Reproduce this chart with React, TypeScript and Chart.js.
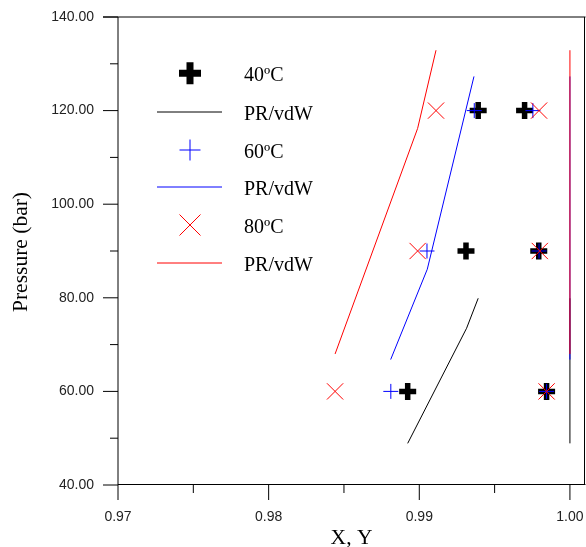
import React, { useEffect, useRef } from 'react';
import { Chart, registerables } from 'chart.js';

Chart.register(...registerables);

// ---- data ----
const xTicks = [0.97, 0.98, 0.99, 1.0];
const yTicks = [40, 60, 80, 100, 120, 140];
const xMinorTicks = [0.975, 0.985, 0.995];
const yMinorTicks = [50, 70, 90, 110, 130];
const legendLabels = ['40ºC', 'PR/vdW', '60ºC', 'PR/vdW', '80ºC', 'PR/vdW'];
const xTitle = 'X, Y';
const yTitle = 'Pressure (bar)';

const exp40X = [0.98923, 0.9931, 0.99391, 0.99845, 0.99793, 0.99699];
const exp40P = [60, 90, 120, 60, 90, 120];
const exp60X = [0.98811, 0.99051, 0.99365, 0.99845, 0.99795, 0.99754];
const exp60P = [60, 90, 120, 60, 90, 120];
const exp80X = [0.98441, 0.98989, 0.99111, 0.99845, 0.998, 0.99795];
const exp80P = [60, 90, 120, 60, 90, 120];

const pr40X = [0.98923, 0.99314, 0.99391];
const pr40P = [48.9, 73.5, 79.9];
const pr40Y = [1.0, 1.0, 1.0];
const pr60X = [0.9881, 0.99053, 0.99363];
const pr60P = [66.8, 86.1, 127.3];
const pr60Y = [1.0, 1.0, 1.0];
const pr80X = [0.98441, 0.98989, 0.99111];
const pr80P = [68.0, 116.2, 132.9];
const pr80Y = [1.0, 1.0, 1.0];

const BLACK = '#000000';
const BLUE = '#0000ff';
const RED = '#ff0000';

const SANS = '"Liberation Sans", Arial, sans-serif';
const SERIF = '"Liberation Serif", "Times New Roman", serif';

const fmt = (v: number) => Number(v).toFixed(2);
const pts = (xs: number[], ys: number[]) => xs.map((x, i) => ({ x, y: ys[i] }));

const lineDs = (data: any[], color: string, order: number) => ({
  data,
  showLine: true,
  borderColor: color,
  backgroundColor: color,
  borderWidth: 1,
  pointRadius: 0,
  fill: false,
  tension: 0,
  order,
});

const markDs = (data: any[], color: string, style: string, radius: number, width: number, order: number) => ({
  data,
  showLine: false,
  borderColor: color,
  backgroundColor: 'rgba(0,0,0,0)',
  pointBorderColor: color,
  pointBackgroundColor: 'rgba(0,0,0,0)',
  pointStyle: style,
  pointRadius: radius,
  pointBorderWidth: width,
  order,
});

const framePlugin = {
  id: 'frame',
  beforeDatasetsDraw(chart: any) {
    const { ctx, chartArea: a, scales } = chart;
    const xs = scales.x;
    const ys = scales.y;
    ctx.save();
    ctx.strokeStyle = '#000';
    ctx.lineWidth = 1;
    ctx.beginPath();
    // left & top (soft)
    ctx.moveTo(a.left, a.top);
    ctx.lineTo(a.left, a.bottom);
    ctx.moveTo(a.left - 15, a.top);
    ctx.lineTo(a.right + 0.5, a.top);
    ctx.stroke();
    ctx.beginPath();
    ctx.moveTo(a.left, a.bottom - 0.5);
    ctx.lineTo(a.right + 0.5, a.bottom - 0.5);
    ctx.moveTo(a.right - 0.5, a.top);
    ctx.lineTo(a.right - 0.5, a.bottom);
    ctx.stroke();
    ctx.beginPath();
    yTicks.forEach((v) => {
      const p = ys.getPixelForValue(v);
      ctx.moveTo(a.left - 15, p);
      ctx.lineTo(a.left, p);
    });
    yMinorTicks.forEach((v) => {
      const p = ys.getPixelForValue(v);
      ctx.moveTo(a.left - 8, p);
      ctx.lineTo(a.left, p);
    });
    xTicks.forEach((v) => {
      const p = xs.getPixelForValue(v);
      ctx.moveTo(p, a.bottom);
      ctx.lineTo(p, a.bottom + 15);
    });
    xMinorTicks.forEach((v) => {
      const p = xs.getPixelForValue(v);
      ctx.moveTo(p, a.bottom);
      ctx.lineTo(p, a.bottom + 8);
    });
    ctx.stroke();

    // x tick labels
    ctx.fillStyle = '#222';
    ctx.font = '14px ' + SANS;
    ctx.textAlign = 'center';
    ctx.textBaseline = 'middle';
    xTicks.forEach((v) => {
      ctx.fillText(fmt(v), xs.getPixelForValue(v), a.bottom + 32);
    });

    // axis titles
    ctx.fillStyle = '#000';
    ctx.font = '21.5px ' + SERIF;
    ctx.textAlign = 'center';
    ctx.textBaseline = 'alphabetic';
    ctx.fillText(xTitle, (a.left + a.right) / 2, 544);
    ctx.translate(27, (a.top + a.bottom) / 2 + 1);
    ctx.rotate(-Math.PI / 2);
    ctx.fillText(yTitle, 0, 0);
    ctx.restore();
  },
};

const legendPlugin = {
  id: 'customLegend',
  afterDatasetsDraw(chart: any) {
    const ctx = chart.ctx;
    const mx = 190;
    const tx = 244;
    const rows = [73.3, 112, 150, 187, 225, 263];
    const colors = [BLACK, BLACK, BLUE, BLUE, RED, RED];
    ctx.save();
    ctx.lineCap = 'butt';
    // 40ºC thick plus
    ctx.strokeStyle = colors[0];
    ctx.lineWidth = 7;
    ctx.beginPath();
    ctx.moveTo(mx - 11, rows[0]);
    ctx.lineTo(mx + 11, rows[0]);
    ctx.moveTo(mx, rows[0] - 11);
    ctx.lineTo(mx, rows[0] + 11);
    ctx.stroke();
    // lines
    ctx.lineWidth = 1;
    [1, 3, 5].forEach((i) => {
      ctx.strokeStyle = colors[i];
      ctx.beginPath();
      ctx.moveTo(157, rows[i]);
      ctx.lineTo(222, rows[i]);
      ctx.stroke();
    });
    // 60ºC plus
    ctx.strokeStyle = colors[2];
    ctx.beginPath();
    ctx.moveTo(mx - 10.5, rows[2]);
    ctx.lineTo(mx + 10.5, rows[2]);
    ctx.moveTo(mx, rows[2] - 10.5);
    ctx.lineTo(mx, rows[2] + 10.5);
    ctx.stroke();
    // 80ºC x
    ctx.strokeStyle = colors[4];
    ctx.beginPath();
    ctx.moveTo(mx - 10.5, rows[4] - 10.5);
    ctx.lineTo(mx + 10.5, rows[4] + 10.5);
    ctx.moveTo(mx - 10.5, rows[4] + 10.5);
    ctx.lineTo(mx + 10.5, rows[4] - 10.5);
    ctx.stroke();
    // texts
    ctx.fillStyle = '#000';
    ctx.font = '20px ' + SERIF;
    ctx.textAlign = 'left';
    ctx.textBaseline = 'alphabetic';
    legendLabels.forEach((t, i) => {
      ctx.fillText(t, tx, rows[i] + 8);
    });
    ctx.restore();
  },
};

export default function App() {
  const ref = useRef<HTMLCanvasElement | null>(null);

  useEffect(() => {
    if (!ref.current) return;
    const chart = new Chart(ref.current, {
      type: 'scatter',
      data: {
        datasets: [
          lineDs(pts(pr40X, pr40P), BLACK, 7) as any,
          lineDs(pts(pr40Y, pr40P), BLACK, 7) as any,
          markDs(pts(exp40X, exp40P), BLACK, 'cross', 8.5, 5.5, 6) as any,
          lineDs(pts(pr60X, pr60P), BLUE, 5) as any,
          lineDs(pts(pr60Y, pr60P), BLUE, 5) as any,
          markDs(pts(exp60X, exp60P), BLUE, 'cross', 7.5, 1, 4) as any,
          lineDs(pts(pr80X, pr80P), RED, 3) as any,
          lineDs(pts(pr80Y, pr80P), RED, 3) as any,
          markDs(pts(exp80X, exp80P), RED, 'crossRot', 11.5, 1, 2) as any,
        ],
      },
      options: {
        responsive: false,
        animation: false,
        events: [],
        layout: { autoPadding: false, padding: { top: 17, right: 1, left: 0, bottom: 0 } },
        plugins: {
          legend: { display: false },
          tooltip: { enabled: false },
          title: { display: false },
        },
        scales: {
          x: {
            type: 'linear',
            min: 0.97,
            max: 1.001,
            afterBuildTicks: (s: any) => {
              s.ticks = xTicks.map((v) => ({ value: v }));
            },
            afterFit: (s: any) => {
              s.height = 62;
              s.paddingLeft = 0;
              s.paddingRight = 0;
            },
            grid: { display: false },
            border: { display: false },
            ticks: { display: false },
          },
          y: {
            type: 'linear',
            min: 40,
            max: 140,
            afterBuildTicks: (s: any) => {
              s.ticks = yTicks.map((v) => ({ value: v }));
            },
            afterFit: (s: any) => {
              s.width = 118;
              s.paddingTop = 0;
              s.paddingBottom = 0;
            },
            grid: {
              display: true,
              drawOnChartArea: false,
              drawTicks: true,
              tickLength: 24,
              tickColor: 'rgba(0,0,0,0)',
            },
            border: { display: false },
            ticks: {
              padding: 0,
              autoSkip: false,
              color: '#222',
              font: { family: SANS, size: 14 },
              callback: (v: any) => fmt(v),
            },
          },
        },
      } as any,
      plugins: [framePlugin, legendPlugin],
    });
    return () => chart.destroy();
  }, []);

  return (
    <div style={{ position: 'absolute', left: 0, top: 0, width: 586, height: 547, background: '#fff' }}>
      <canvas ref={ref} width={586} height={547} style={{ display: 'block' }} />
    </div>
  );
}
